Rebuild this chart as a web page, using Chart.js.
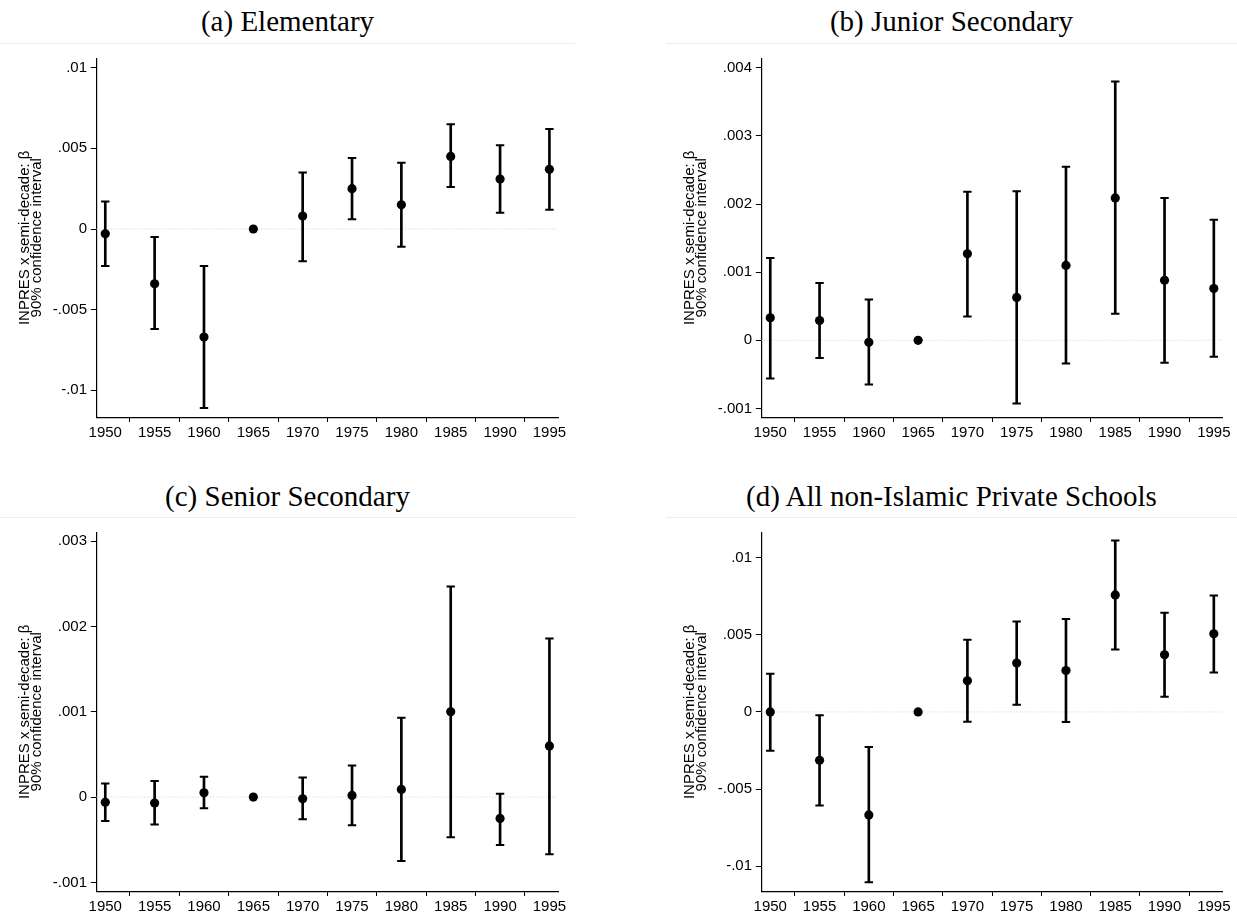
<!DOCTYPE html>
<html><head><meta charset="utf-8">
<script src="https://cdn.jsdelivr.net/npm/chart.js@4.4.1/dist/chart.umd.min.js"></script>
<style>
html,body{margin:0;padding:0;background:#fff;width:1237px;height:917px;overflow:hidden;}
.title{position:absolute;font-family:"Liberation Serif",serif;font-size:29px;line-height:36px;color:#000;text-align:center;white-space:nowrap;}
.rule{position:absolute;height:1px;background:#ededed;}
canvas{position:absolute;}
</style></head>
<body>
<div class="title" style="left:0;width:575px;top:3px;" id="t0"></div>
<div class="title" style="left:666px;width:571px;top:3px;" id="t1"></div>
<div class="title" style="left:0;width:575px;top:478px;" id="t2"></div>
<div class="title" style="left:666px;width:571px;top:478px;" id="t3"></div>
<div class="rule" style="left:0;width:575px;top:43px;"></div>
<div class="rule" style="left:666px;width:571px;top:43px;"></div>
<div class="rule" style="left:0;width:575px;top:517px;"></div>
<div class="rule" style="left:666px;width:571px;top:517px;"></div>
<canvas id="c0" width="580" height="395" style="left:0;top:45px;"></canvas>
<canvas id="c1" width="572" height="395" style="left:665px;top:45px;"></canvas>
<canvas id="c2" width="580" height="395" style="left:0;top:519px;"></canvas>
<canvas id="c3" width="572" height="395" style="left:665px;top:519px;"></canvas>
<script>
// ---- data ----
const YEARS = [1950, 1955, 1960, 1965, 1970, 1975, 1980, 1985, 1990, 1995];
const TITLES = ["(a) Elementary", "(b) Junior Secondary", "(c) Senior Secondary", "(d) All non-Islamic Private Schools"];
const Y_TITLE = ["INPRES x semi-decade: \u03b2", "90% confidence interval"];

const ELEM_EST = [-0.0003, -0.0034, -0.0067, 0, 0.0008, 0.0025, 0.0015, 0.0045, 0.0031, 0.0037];
const ELEM_LO  = [-0.0023, -0.0062, -0.0111, null, -0.0020, 0.0006, -0.0011, 0.0026, 0.0010, 0.0012];
const ELEM_HI  = [0.0017, -0.0005, -0.0023, null, 0.0035, 0.0044, 0.0041, 0.0065, 0.0052, 0.0062];

const JUN_EST = [0.00033, 0.00029, -0.00003, 0, 0.00127, 0.00063, 0.0011, 0.00209, 0.00088, 0.00076];
const JUN_LO  = [-0.00056, -0.00026, -0.00065, null, 0.00035, -0.00093, -0.00034, 0.00039, -0.00033, -0.00024];
const JUN_HI  = [0.00121, 0.00084, 0.0006, null, 0.00218, 0.00219, 0.00255, 0.0038, 0.00209, 0.00177];

const SEN_EST = [-0.00006, -0.00007, 0.00005, 0, -0.00002, 0.00002, 0.00009, 0.001, -0.00025, 0.0006];
const SEN_LO  = [-0.00028, -0.00032, -0.00013, null, -0.00026, -0.00033, -0.00075, -0.00047, -0.00056, -0.00067];
const SEN_HI  = [0.00016, 0.00019, 0.00024, null, 0.00023, 0.00037, 0.00093, 0.00247, 0.00004, 0.00186];

const PRIV_EST = [0.0000, -0.00314, -0.00668, 0, 0.00202, 0.00317, 0.00269, 0.00759, 0.00371, 0.00507];
const PRIV_LO  = [-0.00252, -0.00607, -0.01105, null, -0.00063, 0.00046, -0.00065, 0.00405, 0.00098, 0.00256];
const PRIV_HI  = [0.00247, -0.00021, -0.00228, null, 0.00468, 0.00587, 0.00603, 0.01112, 0.00644, 0.00756];

const TICKS_01 = [-0.01, -0.005, 0, 0.005, 0.01];
const LABELS_01 = ["-.01", "-.005", "0", ".005", ".01"];
const TICKS_004 = [-0.001, 0, 0.001, 0.002, 0.003, 0.004];
const LABELS_004 = ["-.001", "0", ".001", ".002", ".003", ".004"];
const TICKS_003 = [-0.001, 0, 0.001, 0.002, 0.003];
const LABELS_003 = ["-.001", "0", ".001", ".002", ".003"];

const X_MIN = 1949.09, X_MAX = 1995.9;

// ---- charts ----
const FONT = {family: "'Liberation Sans', Arial, sans-serif", size: 15};

function makeChart(id, est, lo, hi, yTicks, yLabels, yMin, yMax, rightPad) {
  const idx = YEARS.map((y, i) => i).filter(i => lo[i] !== null);
  const whiskers = idx.map(i => ({x: YEARS[i], y: [lo[i], hi[i]]}));
  const caps = idx.map(i => ({x: YEARS[i], y: lo[i]})).concat(idx.map(i => ({x: YEARS[i], y: hi[i]})));
  const pts = YEARS.map((x, i) => ({x: x, y: est[i]}));
  new Chart(document.getElementById(id), {
    type: 'scatter',
    data: {datasets: [
      {type: 'line', data: [{x: X_MIN, y: 0}, {x: X_MAX, y: 0}], borderColor: '#cfcfcf', borderWidth: 1,
       borderDash: [1, 2], pointRadius: 0, order: 3},
      {type: 'bar', data: whiskers, backgroundColor: '#000', barThickness: 2, order: 2},
      {type: 'scatter', data: caps, pointStyle: 'line', pointRadius: 4.2, pointBorderWidth: 2,
       pointBorderColor: '#000', order: 1},
      {type: 'scatter', data: pts, pointStyle: 'circle', pointRadius: 4.6, pointBorderWidth: 0,
       pointBackgroundColor: '#000', pointBorderColor: '#000', order: 0}
    ]},
    options: {
      responsive: false, animation: false, events: [],
      layout: {padding: {top: 13.3, right: rightPad, left: 0, bottom: 0}},
      plugins: {legend: {display: false}, tooltip: {enabled: false}},
      scales: {
        x: {
          type: 'linear', min: X_MIN, max: X_MAX, offset: false,
          afterBuildTicks: s => { s.ticks = YEARS.map(v => ({value: v})); },
          afterFit: s => { s.height = 22.7; },
          ticks: {font: FONT, color: '#000', padding: 1.5, autoSkip: false, maxRotation: 0,
                  callback: v => String(v)},
          grid: {drawOnChartArea: false, drawTicks: true, tickLength: 4.7, tickColor: '#000', tickWidth: 1},
          border: {display: true, color: '#000', width: 1.2}
        },
        y: {
          type: 'linear', min: yMin, max: yMax,
          afterBuildTicks: s => { s.ticks = yTicks.map(v => ({value: v})); },
          afterFit: s => { s.width = 96.3; },
          ticks: {font: FONT, color: '#000', padding: 3.8, autoSkip: false,
                  callback: (v, i) => yLabels[i]},
          grid: {drawOnChartArea: false, drawTicks: true, tickLength: 5.5, tickColor: '#000', tickWidth: 1},
          border: {display: true, color: '#000', width: 1.2},
          title: {display: true, text: Y_TITLE, color: '#000',
                  font: {family: FONT.family, size: 15, lineHeight: 0.83},
                  padding: {top: 18.6, bottom: 0}}
        }
      }
    }
  });
}

TITLES.forEach((t, i) => { document.getElementById('t' + i).textContent = t; });

makeChart('c0', ELEM_EST, ELEM_LO, ELEM_HI, TICKS_01, LABELS_01, -0.011674, 0.010583, 21.7);
makeChart('c1', JUN_EST, JUN_LO, JUN_HI, TICKS_004, LABELS_004, -0.001131, 0.004141, 14.3);
makeChart('c2', SEN_EST, SEN_LO, SEN_HI, TICKS_003, LABELS_003, -0.001104, 0.003104, 21.7);
makeChart('c3', PRIV_EST, PRIV_LO, PRIV_HI, TICKS_01, LABELS_01, -0.011635, 0.011654, 14.3);
</script>
</body></html>
